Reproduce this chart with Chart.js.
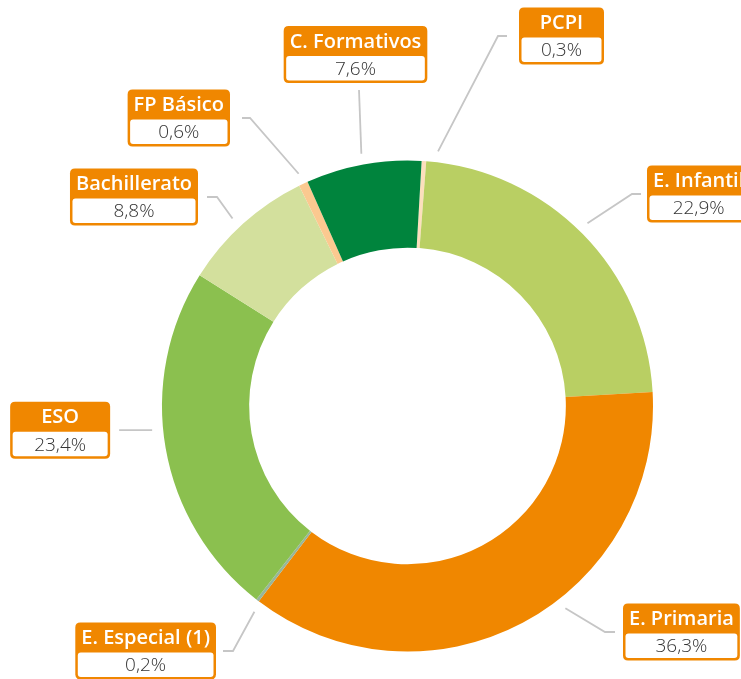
<!DOCTYPE html>
<html lang="es">
<head>
    <meta charset="UTF-8">
    <title>Alumnado por enseñanza</title>
    <script src="https://cdn.jsdelivr.net/npm/chart.js"></script>
    <style>
        body {
            margin: 0;
            background: #fff;
            font-family: 'Open Sans', sans-serif;
        }
        #wrap {
            position: relative;
            width: 741px;
            height: 679px;
        }
    </style>
</head>
<body>
    <div id="wrap"><canvas id="chart"></canvas></div>

    <script>
        // Data (clockwise, starting just right of 12 o'clock)
        const categories = ['PCPI', 'E. Infantil', 'E. Primaria', 'E. Especial (1)', 'ESO', 'Bachillerato', 'FP Básico', 'C. Formativos'];
        const shares = [0.3, 22.9, 36.3, 0.2, 23.4, 8.8, 0.6, 7.6];
        const sliceColors = ['#fcdfbd', '#b9cf63', '#f08700', '#98b69a', '#8bc04f', '#d3e09d', '#fbc990', '#00843d'];

        // Callout placement: elbow offset from the centre, horizontal run, gap to the box
        const callouts = [
            { side: 'right', nudge: 3,   ex: 90.5,   ey: -370, run: 9,  gap: 12, minW: 85 },
            { side: 'right', nudge: -1,  ex: 224.5,  ey: -212, run: 9,  gap: 6,  minW: 85 },
            { side: 'right', nudge: -10, ex: 197.5,  ey: 226,  run: 10, gap: 8,  minW: 85 },
            { side: 'left',  nudge: -1,  ex: -174.5, ey: 245,  run: 10, gap: 7,  minW: 85 },
            { side: 'left',  nudge: 4.5, ex: null,   ey: null, run: 33, gap: 9,  minW: 100 },
            { side: 'left',  nudge: -1,  ex: -190.5, ey: -209, run: 10, gap: 9,  minW: 85 },
            { side: 'left',  nudge: 0,   ex: -157.5, ey: -288, run: 8,  gap: 12, minW: 85 },
            { side: 'top',   nudge: 0,   ex: -48.5,  ey: -316, run: 0,  gap: 7,  minW: 85 }
        ];

        const ORANGE = '#f08700';
        const HEAD_FONT = '600 20px "Open Sans", sans-serif';
        const VALUE_FONT = '300 19px "Open Sans", sans-serif';

        function fmt(v) {
            return v.toFixed(1).replace('.', ',') + '%';
        }

        function roundRect(ctx, x, y, w, h, r) {
            ctx.beginPath();
            ctx.moveTo(x + r, y);
            ctx.lineTo(x + w - r, y);
            ctx.quadraticCurveTo(x + w, y, x + w, y + r);
            ctx.lineTo(x + w, y + h - r);
            ctx.quadraticCurveTo(x + w, y + h, x + w - r, y + h);
            ctx.lineTo(x + r, y + h);
            ctx.quadraticCurveTo(x, y + h, x, y + h - r);
            ctx.lineTo(x, y + r);
            ctx.quadraticCurveTo(x, y, x + r, y);
            ctx.closePath();
        }

        function makeBox(ctx, title, value, minW) {
            const headH = 30, bodyH = 27;
            ctx.font = HEAD_FONT;
            const tw = ctx.measureText(title).width;
            ctx.font = VALUE_FONT;
            const vw = ctx.measureText(value).width;
            const w = Math.max(minW, Math.max(tw, vw) + 12);
            return { w: w, h: headH + bodyH, paint: function (left, top) {
                roundRect(ctx, left, top, w, headH + bodyH, 5);
                ctx.fillStyle = ORANGE;
                ctx.fill();
                ctx.fillStyle = '#fff';
                roundRect(ctx, left + 2.5, top + headH, w - 5, bodyH - 2.5, 3);
                ctx.fill();
                ctx.textAlign = 'center';
                ctx.textBaseline = 'middle';
                ctx.font = HEAD_FONT;
                ctx.fillStyle = '#fff';
                ctx.fillText(title, left + w / 2, top + headH / 2 + 1);
                ctx.font = VALUE_FONT;
                ctx.fillStyle = '#333';
                ctx.fillText(value, left + w / 2, top + headH + bodyH / 2);
            } };
        }

        const calloutPlugin = {
            id: 'callouts',
            afterDraw(chart) {
                const ctx = chart.ctx;
                const meta = chart.getDatasetMeta(0);
                meta.data.forEach((arc, i) => {
                    const p = arc.getProps(['x', 'y', 'startAngle', 'endAngle', 'outerRadius'], true);
                    const c = callouts[i];
                    const mid = (p.startAngle + p.endAngle) / 2 + c.nudge * Math.PI / 180;
                    const r0 = p.outerRadius + 11;
                    const sx = p.x + r0 * Math.cos(mid);
                    const sy = p.y + r0 * Math.sin(mid);
                    const ex = c.ex === null ? sx : p.x + c.ex;
                    const ey = c.ey === null ? sy : p.y + c.ey;
                    const dir = c.side === 'left' ? -1 : 1;
                    const endX = c.side === 'top' ? ex : ex + dir * c.run;

                    ctx.save();
                    ctx.strokeStyle = '#c6c6c6';
                    ctx.lineWidth = 1.8;
                    ctx.beginPath();
                    ctx.moveTo(sx, sy);
                    ctx.lineTo(ex, ey);
                    if (c.side !== 'top') ctx.lineTo(endX, ey);
                    ctx.stroke();

                    const box = makeBox(ctx, categories[i], fmt(shares[i]), c.minW);
                    let left, top;
                    if (c.side === 'right') {
                        left = endX + c.gap;
                        top = ey - box.h / 2;
                    } else if (c.side === 'left') {
                        left = endX - c.gap - box.w;
                        top = ey - box.h / 2;
                    } else {
                        left = ex - 3.5 - box.w / 2;
                        top = ey - c.gap - box.h;
                    }
                    box.paint(left, top);
                    ctx.restore();
                });
            }
        };

        new Chart(document.getElementById('chart'), {
            type: 'doughnut',
            data: {
                labels: categories,
                datasets: [{
                    data: shares,
                    backgroundColor: sliceColors,
                    borderWidth: 0
                }]
            },
            options: {
                responsive: true,
                maintainAspectRatio: false,
                animation: false,
                rotation: 3.3,
                cutout: '64.5%',
                layout: {
                    padding: { left: 162, right: 88, top: 160.5, bottom: 27.5 }
                },
                plugins: {
                    legend: { display: false },
                    tooltip: { enabled: false }
                }
            },
            plugins: [calloutPlugin]
        });
    </script>
</body>
</html>
